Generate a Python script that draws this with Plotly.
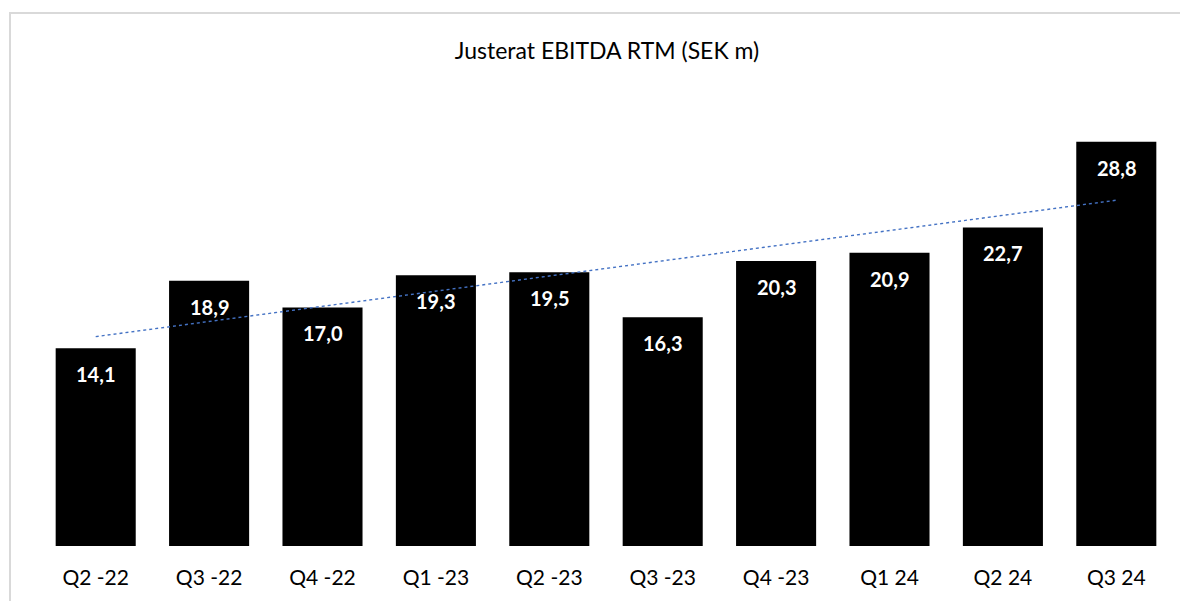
import numpy as np
import plotly.graph_objects as go

categories = ["Q2 -22", "Q3 -22", "Q4 -22", "Q1 -23", "Q2 -23", "Q3 -23", "Q4 -23", "Q1 24", "Q2 24", "Q3 24"]
values = [14.1, 18.9, 17.0, 19.3, 19.5, 16.3, 20.3, 20.9, 22.7, 28.8]
labels = [f"{v:.1f}".replace(".", ",") for v in values]
title_text = "Justerat EBITDA RTM (SEK m)"

# linear trendline (least squares, as in the spreadsheet trendline)
xi = np.arange(len(values))
slope, intercept = np.polyfit(xi, values, 1)
trend = slope * xi + intercept

FONT = "Lato, Open Sans, sans-serif"
W, H = 1180, 593          # page body has an 8px margin
ml, mr, mt, mb = 31, 15, 117, 53
pw, ph = W - ml - mr, H - mt - mb

fig = go.Figure()
fig.add_trace(go.Bar(
    x=categories, y=values,
    marker=dict(color="#000000", line=dict(width=0)),
    hoverinfo="x+y",
))
fig.add_trace(go.Scatter(
    x=categories, y=trend, mode="lines",
    line=dict(color="#4472C4", width=1.4, dash="dot"),
    hoverinfo="skip",
))

for c, v, t in zip(categories, values, labels):
    fig.add_annotation(
        x=c, y=v, text=f"<b>{t}</b>", showarrow=False,
        yanchor="middle", yshift=-26,
        font=dict(family=FONT, size=20, color="#FFFFFF"),
    )

# chart border (light grey, like the spreadsheet chart area)
fig.add_shape(
    type="rect", xref="paper", yref="paper",
    x0=(2 - ml) / pw, x1=(W + 30 - ml) / pw,
    y0=-(mb + 30) / ph, y1=(H - mb - 4.5) / ph,
    line=dict(color="#D9D9D9", width=2), fillcolor="rgba(0,0,0,0)", layer="below",
)

fig.update_layout(
    width=W, height=H,
    margin=dict(l=ml, r=mr, t=mt, b=mb, pad=0),
    paper_bgcolor="#FFFFFF", plot_bgcolor="#FFFFFF",
    showlegend=False,
    bargap=0.294,
    title=dict(text=title_text, x=599 / W, xref="container", xanchor="center",
               y=1 - 43 / H, yref="container", yanchor="middle",
               font=dict(family=FONT, size=23, color="#000000")),
    xaxis=dict(showline=False, showgrid=False, zeroline=False, ticks="",
               tickfont=dict(family=FONT, size=21, color="#000000"),
               ticklabelstandoff=17,
               range=[-0.5, 9.5]),
    yaxis=dict(range=[0, 30], visible=False, showgrid=False, zeroline=False),
)

fig.write_html("out.html")
